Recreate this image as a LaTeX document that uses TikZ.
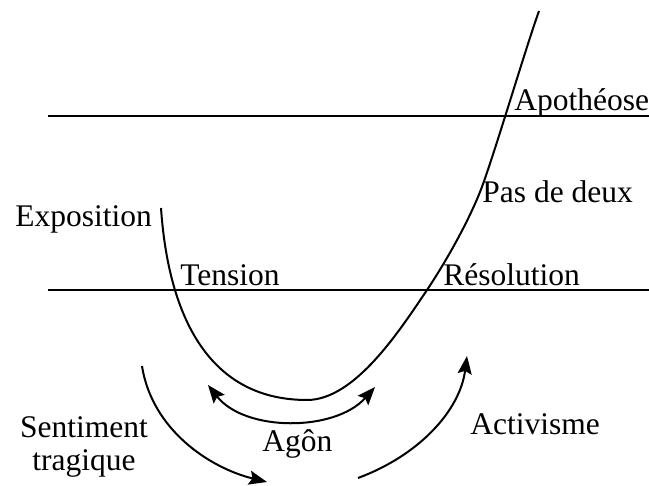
\documentclass[tikz,border=0pt]{standalone}
\usepackage{fontspec}
\setmainfont{Liberation Serif}
\usetikzlibrary{arrows.meta}

\begin{document}
\begin{tikzpicture}[
    x=0.5pt, y=-0.5pt,
    word/.style={anchor=base west, inner sep=0pt, font=\fontsize{15.75}{16.5}\selectfont},
    level/.style={line width=1pt},
    swing/.style={-{Stealth[length=9pt,width=7pt,inset=1.5pt]}, line width=1pt}
  ]
    \useasboundingbox (0,0) rectangle (649,486);

    % the two levels
    \draw[level] (48,116) -- (649,116);
    \draw[level] (48,290) -- (649,290);

    % the course of the story
    \draw[level] (161,208) .. controls (168,310) and (205,400) .. (307,400)
      .. controls (355,400) and (400,330) .. (427,290)
      .. controls (447,260) and (468,222) .. (480,192)
      .. controls (492,162) and (525,50) .. (539,11);

    \node[word] (expo) at (15,227) {Exposition};
    \node[word] (tension) at (180,286) {Tension};
    \node[word] (apo) at (514,111) {Apothéose};
    \node[word] (pas) at (482,203) {Pas de deux};
    \node[word] (reso) at (443,286) {Résolution};
    \node[word] (agon) at (262,452) {Agôn};
    \node[word] (acti) at (470,435) {Activisme};
    \node[word, anchor=base, align=center] (senti) at (84,471) {Sentiment\\tragique};

    \coordinate (sentiA) at (142,366);
    \coordinate (sentiB) at (267,482);
    \coordinate (agonA) at (208,385);
    \coordinate (agonB) at (375,387);
    \coordinate (actiA) at (358,478);
    \coordinate (actiB) at (467,356);

    \draw[swing] (sentiA) .. controls (152,430) and (210,468) .. (sentiB);
    \draw[swing, {Stealth[length=9pt,width=7pt,inset=1.5pt]}-{Stealth[length=9pt,width=7pt,inset=1.5pt]}] (agonA) .. controls (245,432) and (335,432) .. (agonB);
    \draw[swing] (actiA) .. controls (420,455) and (460,410) .. (actiB);
  \end{tikzpicture}
\end{document}
